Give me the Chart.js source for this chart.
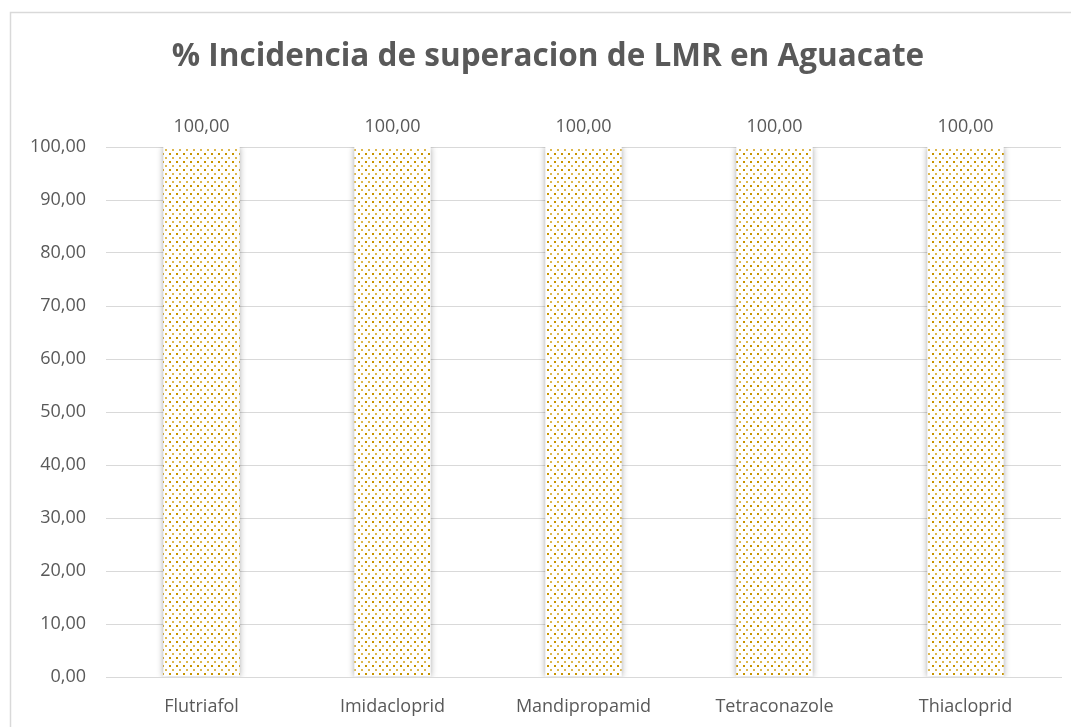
<!DOCTYPE html>
<html>
<head>
<meta charset="utf-8">
<script src="https://cdn.jsdelivr.net/npm/chart.js@4/dist/chart.umd.min.js"></script>
<style>
  html, body { margin: 0; padding: 0; background: #fff; overflow: hidden; }
  #wrap { width: 1071px; height: 727px; position: relative; }
</style>
</head>
<body>
<div id="wrap"><canvas id="myChart" width="1071" height="727"></canvas></div>
<script>
const categories = ["Flutriafol", "Imidacloprid", "Mandipropamid", "Tetraconazole", "Thiacloprid"];
const incidence = [100, 100, 100, 100, 100];
const yTicks = [0, 10, 20, 30, 40, 50, 60, 70, 80, 90, 100];
const chartTitle = "% Incidencia de superacion de LMR en Aguacate";

const FONT = "'Open Sans', 'Liberation Sans', sans-serif";
const TEXT = "#595959";

// dotted gold fill like the excel pattern
function makePattern() {
  const c = document.createElement("canvas");
  c.width = 7;
  c.height = 8;
  const g = c.getContext("2d");
  g.fillStyle = "#ffffff";
  g.fillRect(0, 0, 7, 8);
  g.fillStyle = "rgba(200,148,0,1)";
  g.fillRect(1, 1, 2, 2);
  g.fillStyle = "rgba(210,160,20,0.75)";
  g.fillRect(4, 5, 2, 2);
  return g.createPattern(c, "repeat");
}

const frame = {
  id: "frame",
  beforeDraw(chart) {
    const ctx = chart.ctx;
    ctx.save();
    ctx.strokeStyle = "#d9d9d9";
    ctx.lineWidth = 1.5;
    ctx.strokeRect(10.5, 12.5, 1200, 800);
    ctx.fillStyle = TEXT;
    ctx.font = "bold 31.5px " + FONT;
    ctx.textAlign = "center";
    ctx.textBaseline = "middle";
    ctx.fillText(chartTitle, 548, 57);
    ctx.restore();
  },
};

const shadow = {
  id: "shadow",
  beforeDatasetDraw(chart) {
    const ctx = chart.ctx;
    ctx.save();
    ctx.shadowColor = "rgba(0,0,0,0.35)";
    ctx.shadowBlur = 6;
    ctx.shadowOffsetX = 0;
    ctx.shadowOffsetY = 0;
  },
  afterDatasetDraw(chart) {
    chart.ctx.restore();
  },
};

const valueLabels = {
  id: "valueLabels",
  afterDatasetsDraw(chart) {
    const ctx = chart.ctx;
    const meta = chart.getDatasetMeta(0);
    ctx.save();
    ctx.fillStyle = TEXT;
    ctx.font = "18px " + FONT;
    ctx.textAlign = "center";
    ctx.textBaseline = "middle";
    meta.data.forEach((bar, i) => {
      ctx.fillText(incidence[i].toFixed(2).replace(".", ","), bar.x, bar.y - 20);
    });
    ctx.restore();
  },
};

const ctx = document.getElementById("myChart");
const myChart = new Chart(ctx, {
  type: "bar",
  data: {
    labels: categories,
    datasets: [
      {
        data: incidence,
        backgroundColor: makePattern(),
        borderWidth: 0,
        categoryPercentage: 1,
        barPercentage: 0.4,
      },
    ],
  },
  options: {
    responsive: false,
    animation: false,
    layout: { padding: { top: 147, left: 10, right: 10, bottom: 0 } },
    plugins: {
      legend: { display: false },
      tooltip: { enabled: false },
    },
    scales: {
      x: {
        grid: { display: false },
        border: { color: "#d9d9d9", width: 1 },
        ticks: { color: TEXT, font: { family: FONT, size: 18 }, padding: 11 },
        afterFit(scale) { scale.height = 50; },
      },
      y: {
        min: 0,
        max: 100,
        afterBuildTicks(scale) { scale.ticks = yTicks.map((v) => ({ value: v })); },
        grid: { color: "#d9d9d9", lineWidth: 1, drawTicks: false },
        border: { display: false },
        ticks: {
          color: TEXT,
          font: { family: FONT, size: 18 },
          padding: 20,
          callback: (v) => v.toFixed(2).replace(".", ","),
        },
        afterFit(scale) { scale.width = 96; },
      },
    },
  },
  plugins: [frame, shadow, valueLabels],
});
</script>
</body>
</html>
